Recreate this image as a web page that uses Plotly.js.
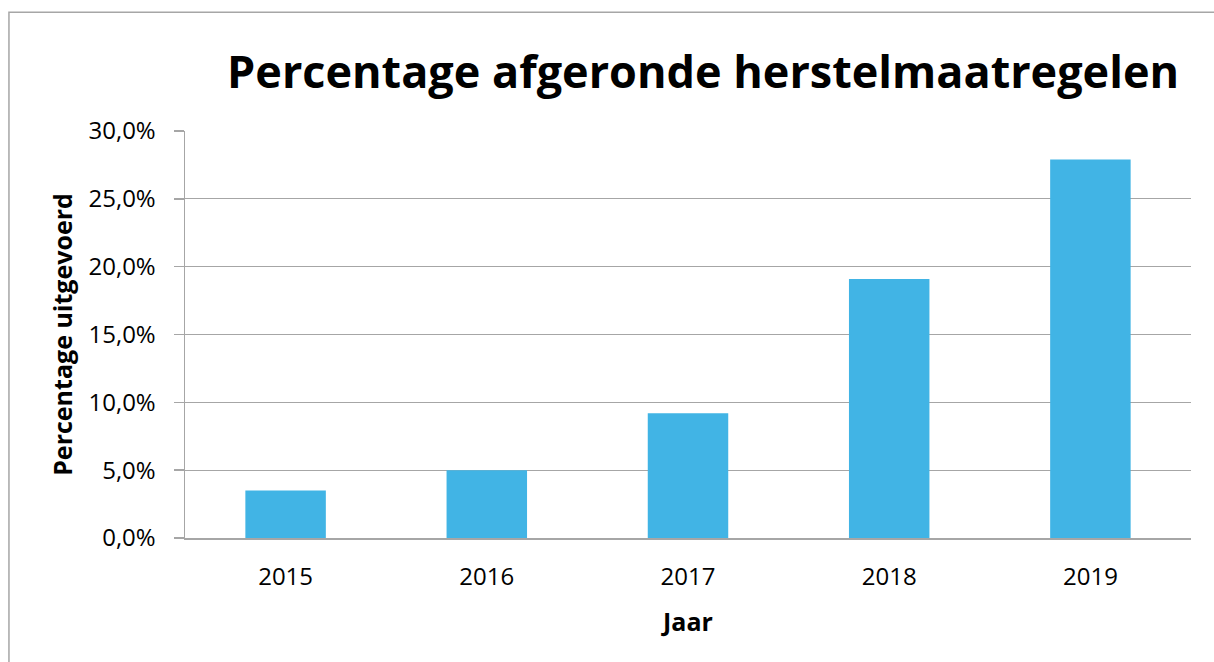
<!DOCTYPE html>
<html>
<head>
<meta charset="utf-8">
<script src="https://cdn.plot.ly/plotly-3.0.1.min.js"></script>
<style>
  html, body { margin: 0; padding: 0; background: #fff; }
  #chart { width: 1214px; height: 662px; }
</style>
</head>
<body>
<div id="chart"></div>
<script>
var years = ['2015', '2016', '2017', '2018', '2019'];
var percentages = [3.5, 5.0, 9.2, 19.1, 27.9];
var yTicks = [0, 5, 10, 15, 20, 25, 30];

var gridGray = '#a6a6a6';
var fontFamily = '"Open Sans", "Noto Sans", sans-serif';

// plotly's %-format wants fractions
var trace = {
  x: years,
  y: percentages.map(function(p) { return p / 100; }),
  type: 'bar',
  marker: { color: '#41b4e5' },
  hoverinfo: 'x+y'
};

var layout = {
  width: 1214,
  height: 662,
  margin: { l: 185, r: 23, t: 131, b: 124 },
  paper_bgcolor: '#fff',
  plot_bgcolor: '#fff',
  separators: ',.',
  bargap: 0.6,
  showlegend: false,
  font: { family: fontFamily, color: '#000', size: 24 },
  title: {
    text: '<b>Percentage afgeronde herstelmaatregelen</b>',
    font: { size: 45, color: '#000' },
    xref: 'paper',
    x: 0.515,
    xanchor: 'center',
    yref: 'container',
    y: 0.891,
    yanchor: 'middle'
  },
  xaxis: {
    type: 'category',
    showline: true,
    linecolor: gridGray,
    linewidth: 1.5,
    ticks: '',
    ticklabelstandoff: 17,
    tickfont: { size: 24 },
    title: { text: '<b>Jaar</b>', font: { size: 25 }, standoff: 22 }
  },
  yaxis: {
    range: [0, 0.3],
    tickvals: yTicks.map(function(t) { return t / 100; }),
    tickformat: '.1%',
    showline: true,
    linecolor: gridGray,
    linewidth: 1.5,
    ticks: 'outside',
    ticklen: 10,
    tickcolor: gridGray,
    tickwidth: 1.5,
    ticklabelstandoff: 13,
    gridcolor: gridGray,
    gridwidth: 1.3,
    zeroline: false,
    tickfont: { size: 24 },
    title: { text: '<b>Percentage uitgevoerd</b>', font: { size: 25 }, standoff: 8 }
  },
  shapes: [{
    type: 'rect',
    xref: 'paper',
    yref: 'paper',
    x0: -0.175,
    x1: 1.2,
    y0: -0.5,
    y1: 1.292,
    line: { color: gridGray, width: 1.5 },
    fillcolor: 'rgba(0,0,0,0)',
    layer: 'below'
  }]
};

Plotly.newPlot('chart', [trace], layout, { displayModeBar: false, staticPlot: true });
</script>
</body>
</html>
